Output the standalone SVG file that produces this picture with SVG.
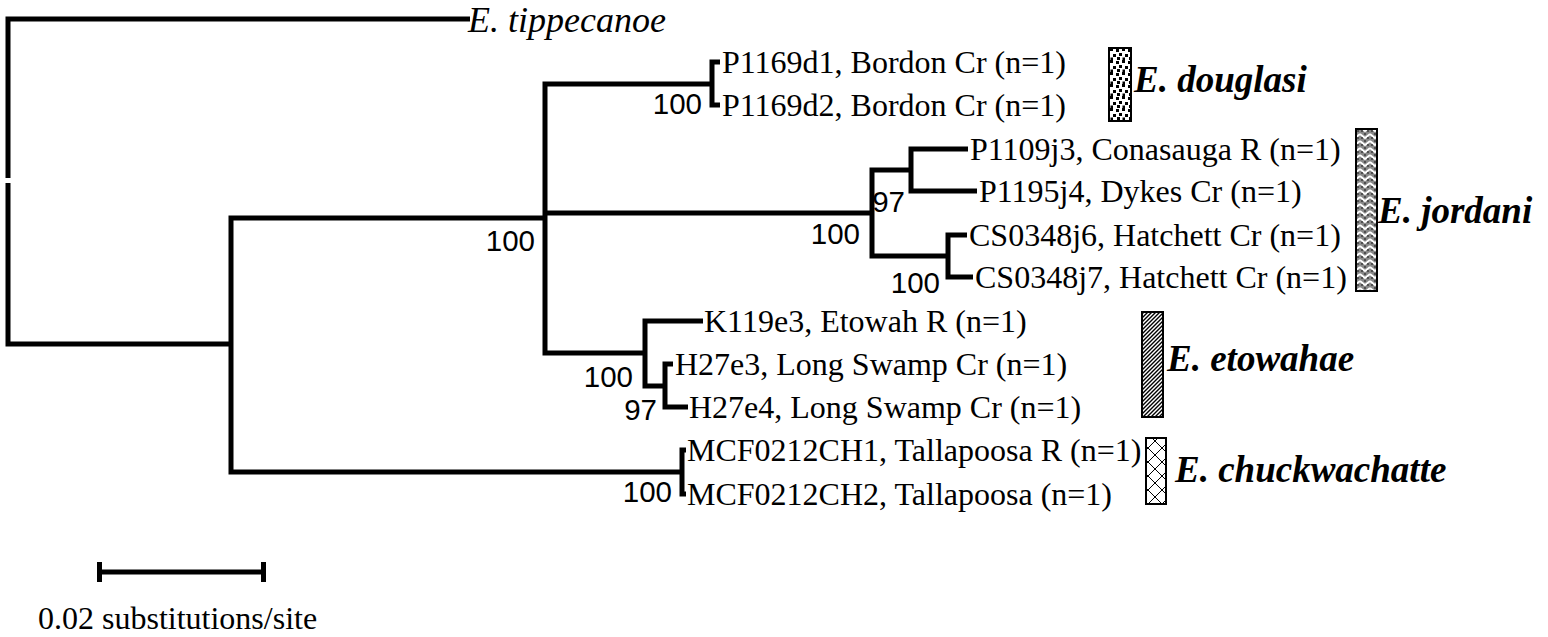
<svg xmlns="http://www.w3.org/2000/svg" width="1548" height="637" viewBox="0 0 1548 637">
<style>
.br{fill:none;stroke:#000;stroke-width:5;stroke-linejoin:miter;stroke-linecap:butt}
.tip{font-family:"Liberation Serif","Times New Roman",serif;font-size:32px;fill:#000}
.bs{font-family:"Liberation Sans",Arial,sans-serif;font-size:29.5px;fill:#000;text-anchor:end}
.sp{font-family:"Liberation Serif","Times New Roman",serif;font-size:37px;font-weight:bold;font-style:italic;fill:#000}
.bar{stroke:#000;stroke-width:2}
</style>
<defs>
<pattern id="pDots" width="12" height="12" patternUnits="userSpaceOnUse">
<rect width="12" height="12" fill="#fff"/>
<rect x="0" y="1" width="3" height="3" fill="#000"/>
<rect x="6" y="0" width="3" height="3" fill="#000"/>
<rect x="3" y="5" width="3" height="3" fill="#000"/>
<rect x="9" y="6" width="3" height="3" fill="#000"/>
<rect x="1" y="9" width="3" height="3" fill="#000"/>
<rect x="6.5" y="9.5" width="2.5" height="2.5" fill="#000"/>
</pattern>
<pattern id="pChev" width="10" height="7" patternUnits="userSpaceOnUse">
<rect width="10" height="7" fill="#888"/>
<polyline points="0,1 5,5 10,1" fill="none" stroke="#fff" stroke-width="1.8"/>
<circle cx="2" cy="5" r="0.9" fill="#333"/>
<circle cx="8" cy="5" r="0.9" fill="#333"/>
<circle cx="5" cy="1" r="0.9" fill="#333"/>
</pattern>
<pattern id="pDiag" width="4" height="4" patternUnits="userSpaceOnUse">
<rect width="4" height="4" fill="#fff"/>
<path d="M-1,1 L1,-1 M0,4 L4,0 M3,5 L5,3" stroke="#000" stroke-width="1.4"/>
</pattern>
<pattern id="pCross" width="14" height="14" patternUnits="userSpaceOnUse">
<rect width="14" height="14" fill="#fff"/>
<path d="M0,0 L14,14 M14,0 L0,14" stroke="#000" stroke-width="1"/>
</pattern>
</defs>

<g id="connectors">
<path class="br" d="M470,19 H8 V178"/>
<path class="br" d="M8,183 V344 H231"/>
<path class="br" d="M545,218 H231 V472 H682"/>
<path class="br" d="M712,84 H545 V353 H645"/>
<path class="br" d="M545,213 H872"/>
<path class="br" d="M720,62 H712 V105 H720"/>
<path class="br" d="M911,170 H872 V256 H948"/>
<path class="br" d="M968,149 H911 V191 H977"/>
<path class="br" d="M967,235 H948 V277 H973"/>
<path class="br" d="M703,321 H645 V386 H665"/>
<path class="br" d="M673,364 H665 V407 H688"/>
<path class="br" d="M686,450 H682 V494 H686"/>
</g>

<g id="outgroup"><text x="468" y="32" class="tip" style="font-style:italic;font-size:36px">E. tippecanoe</text></g>

<g id="tips">
<text class="tip" x="722" y="73">P1169d1, Bordon Cr (n=1)</text>
<text class="tip" x="722" y="116">P1169d2, Bordon Cr (n=1)</text>
<text class="tip" x="970" y="160">P1109j3, Conasauga R (n=1)</text>
<text class="tip" x="979" y="202">P1195j4, Dykes Cr (n=1)</text>
<text class="tip" x="969" y="246">CS0348j6, Hatchett Cr (n=1)</text>
<text class="tip" x="975" y="288">CS0348j7, Hatchett Cr (n=1)</text>
<text class="tip" x="704" y="332">K119e3, Etowah R (n=1)</text>
<text class="tip" x="675" y="375">H27e3, Long Swamp Cr (n=1)</text>
<text class="tip" x="689" y="418">H27e4, Long Swamp Cr (n=1)</text>
<text class="tip" x="687" y="461">MCF0212CH1, Tallapoosa R (n=1)</text>
<text class="tip" x="687" y="505">MCF0212CH2, Tallapoosa (n=1)</text>
</g>

<g id="bootstrap">
<text class="bs" x="702" y="114">100</text>
<text class="bs" x="535" y="251">100</text>
<text class="bs" x="860" y="244">100</text>
<text class="bs" x="905" y="212">97</text>
<text class="bs" x="940" y="293">100</text>
<text class="bs" x="633" y="387">100</text>
<text class="bs" x="657" y="420">97</text>
<text class="bs" x="672" y="502">100</text>
</g>

<g id="douglasi">
<rect class="bar" x="1109" y="48" width="22" height="73" fill="url(#pDots)"/>
<text class="sp" x="1134" y="92">E. douglasi</text>
</g>
<g id="jordani">
<rect class="bar" x="1356" y="129" width="21" height="162" fill="url(#pChev)"/>
<text class="sp" x="1378" y="223">E. jordani</text>
</g>
<g id="etowahae">
<rect class="bar" x="1142" y="312" width="21" height="105" fill="url(#pDiag)"/>
<text class="sp" x="1167" y="371">E. etowahae</text>
</g>
<g id="chuckwachatte">
<rect class="bar" x="1146" y="438" width="20" height="66" fill="url(#pCross)"/>
<text class="sp" x="1175" y="482">E. chuckwachatte</text>
</g>

<g id="scalebar">
<path class="br" d="M97,572 H266 M99.5,562 V582 M263.5,562 V582"/>
<text class="tip" x="38" y="629">0.02 substitutions/site</text>
</g>
</svg>
